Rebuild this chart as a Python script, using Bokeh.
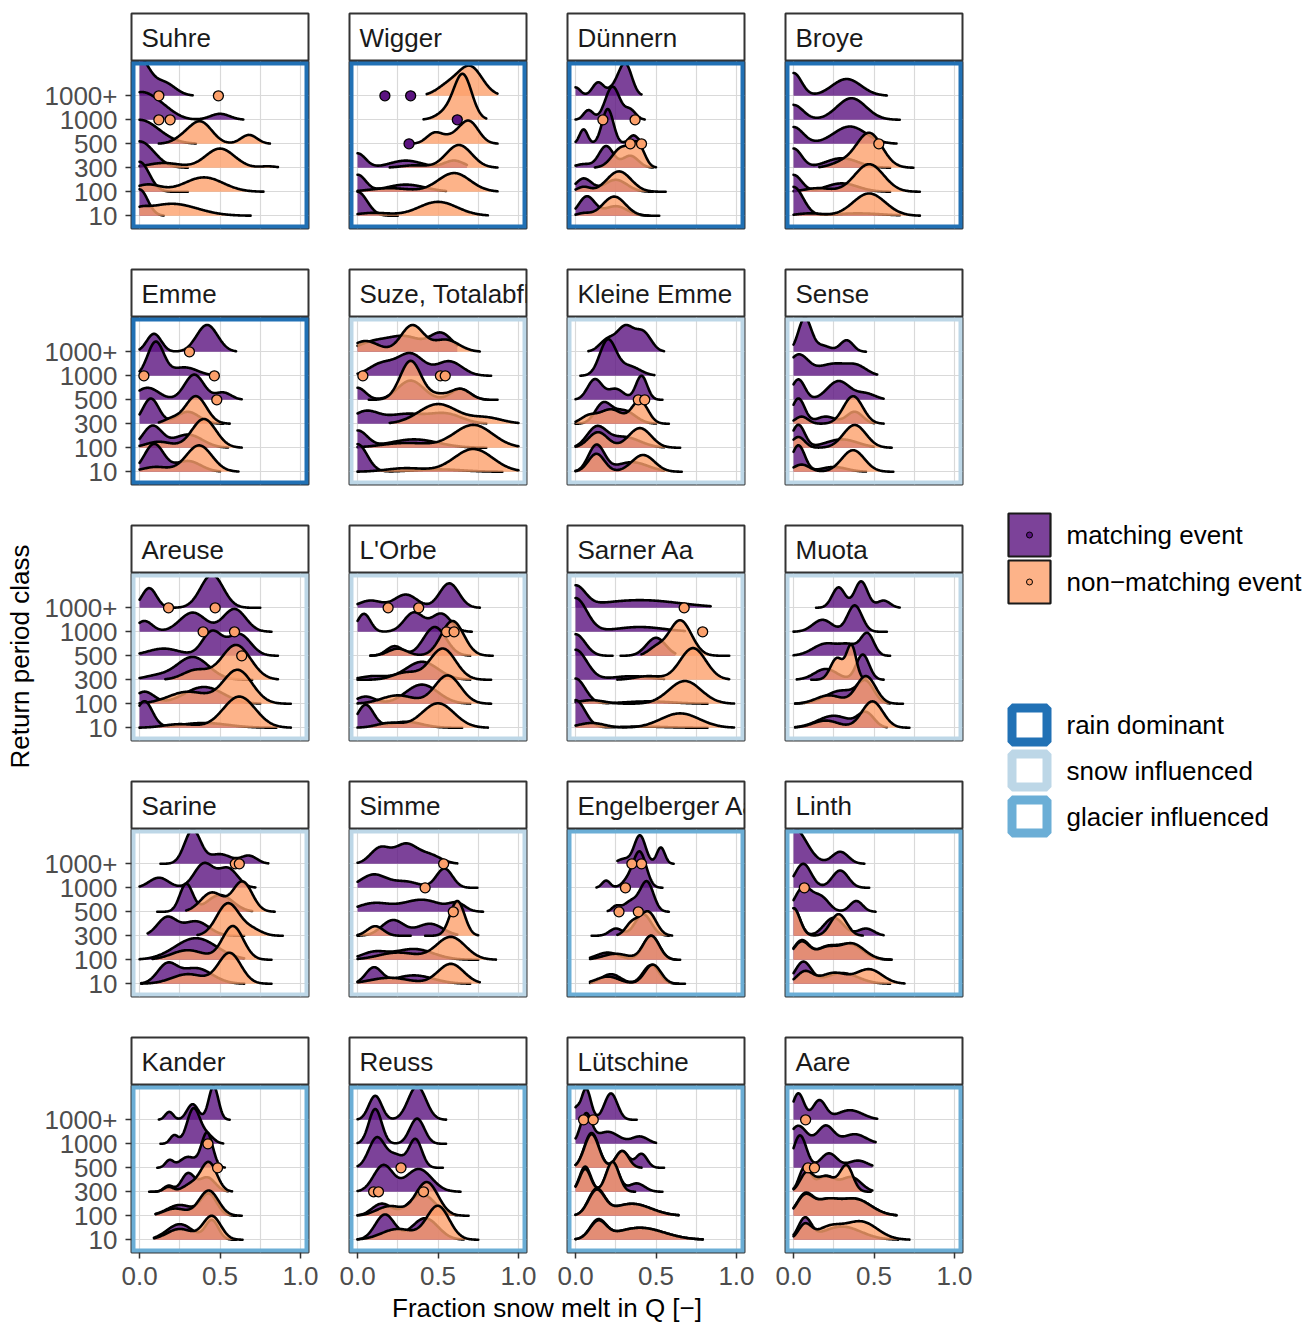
import numpy as np
from bokeh.plotting import figure
from bokeh.layouts import row, column
from bokeh.models import Range1d, FixedTicker, LinearAxis, Grid, NumeralTickFormatter
from bokeh.embed import file_html
from bokeh.resources import INLINE
from bokeh.core.properties import value

# ---------------- data ----------------
RP_CLASSES = ["10", "100", "300", "500", "1000", "1000+"]
X_TICKS = [0.0, 0.5, 1.0]
X_MINOR = [0.25, 0.75]
EVENT_LABELS = ["matching event", "non\u2212matching event"]
REGIME_LABELS = ["rain dominant", "snow influenced", "glacier influenced"]

PANEL_NAMES = ["Suhre", "Wigger", "Dünnern", "Broye",
               "Emme", "Suze, Totalabfluss", "Kleine Emme", "Sense",
               "Areuse", "L'Orbe", "Sarner Aa", "Muota",
               "Sarine", "Simme", "Engelberger Aa", "Linth",
               "Kander", "Reuss", "Lütschine", "Aare"]
PANEL_REGIME = (["rain dominant"] * 5 + ["snow influenced"] * 9 + ["glacier influenced"] * 6)

# ridge: (return period class, event type M/N, x from, x to, [(peak x, peak height, peak width), ...])
SUHRE = [
    ("1000+", "M", 0, .33, [(0, 1.5, .06), (.15, .55, .07)]),
    ("1000", "M", 0, .645, [(0, 1.1, .1), (.15, .3, .08), (.5, .25, .06)]),
    ("500", "M", 0, .35, [(0, 1.0, .12)]),
    ("500", "N", .12, .81, [(.38, .9, .07), (.27, .2, .06), (.68, .37, .05)]),
    ("300", "M", 0, .3, [(0, 1.1, .09)]),
    ("300", "N", 0, .86, [(.5, .8, .09), (.15, .2, .1), (.8, .06, .05)]),
    ("100", "M", 0, .3, [(0, 1.25, .06)]),
    ("100", "N", 0, .77, [(.05, .3, .08), (.4, .6, .12)]),
    ("10", "M", 0, .15, [(0, 1.1, .05)]),
    ("10", "N", 0, .69, [(.2, .5, .16), (0, .15, .05)]),
]
SUHRE_PTS = [("1000+", "N", .12), ("1000+", "N", .49), ("1000", "N", .12), ("1000", "N", .19)]

WIGGER = [
    ("1000+", "N", .43, .87, [(.70, 1.2, .075), (.56, .4, .07)]),
    ("1000", "N", .41, .80, [(.655, 1.85, .055), (.55, .3, .06)]),
    ("500", "N", .34, .87, [(.48, .45, .05), (.69, .95, .06), (.58, .2, .05)]),
    ("300", "M", 0, .68, [(0, .6, .05), (.3, .3, .1), (.6, .3, .06)]),
    ("300", "N", .2, .87, [(.63, .95, .08), (.35, .1, .08)]),
    ("100", "M", 0, .55, [(0, .7, .05), (.3, .3, .12)]),
    ("100", "N", 0, .87, [(.6, .78, .1), (.2, .15, .12)]),
    ("10", "M", 0, .25, [(0, 1.0, .06)]),
    ("10", "N", 0, .81, [(.5, .58, .12), (.1, .12, .1)]),
]
WIGGER_PTS = [("1000+", "M", .17), ("1000+", "M", .33), ("1000", "M", .62), ("500", "M", .32)]

DUENNERN = [
    ("1000+", "M", 0, .41, [(0, .35, .03), (.14, .55, .035), (.31, 1.3, .04), (.24, .3, .04)]),
    ("1000", "M", 0, .43, [(.08, .4, .03), (.23, 1.38, .045), (.34, .4, .035)]),
    ("500", "M", 0, .42, [(.05, .6, .025), (.2, 1.45, .035), (.36, .35, .03)]),
    ("300", "M", 0, .48, [(.19, .9, .045), (.05, .15, .05), (.34, .5, .05)]),
    ("300", "N", .12, .5, [(.29, .85, .06), (.39, .85, .04)]),
    ("100", "M", 0, .48, [(.05, .55, .05), (.25, .5, .07)]),
    ("100", "N", 0, .56, [(.27, .85, .075), (.05, .2, .04)]),
    ("10", "M", 0, .45, [(.07, .8, .05), (.25, .4, .07)]),
    ("10", "N", 0, .52, [(.24, .8, .07), (.05, .1, .04)]),
]
DUENNERN_PTS = [("1000", "N", .17), ("1000", "N", .37), ("500", "N", .34), ("500", "N", .41)]

BROYE = [
    ("1000+", "M", 0, .58, [(0, .95, .05), (.33, .7, .09)]),
    ("1000", "M", 0, .66, [(0, .62, .06), (.36, .9, .09)]),
    ("500", "M", 0, .64, [(0, .7, .06), (.35, .72, .1)]),
    ("300", "M", 0, .6, [(0, .8, .05), (.3, .4, .1)]),
    ("300", "N", .16, .745, [(.47, 1.45, .08), (.3, .2, .07)]),
    ("100", "M", 0, .6, [(0, .7, .05), (.3, .35, .1)]),
    ("100", "N", 0, .785, [(.47, 1.15, .09), (.15, .15, .08)]),
    ("10", "M", 0, .66, [(0, 1.2, .06), (.4, .1, .15)]),
    ("10", "N", 0, .785, [(.47, .93, .1), (.1, .1, .08)]),
]
BROYE_PTS = [("500", "N", .53)]

EMME = [
    ("1000+", "M", 0, .6, [(.09, .75, .045), (.42, 1.12, .065)]),
    ("1000", "M", 0, .48, [(.1, 1.4, .05), (.28, .35, .08)]),
    ("500", "M", 0, .635, [(.05, .5, .07), (.34, 1.05, .06), (.52, .3, .05)]),
    ("300", "M", 0, .52, [(.07, 1.05, .05), (.3, .5, .07)]),
    ("300", "N", .12, .56, [(.35, 1.15, .065), (.2, .2, .05)]),
    ("100", "M", 0, .55, [(.08, .9, .06), (.3, .55, .09)]),
    ("100", "N", 0, .635, [(.4, 1.2, .075), (.12, .25, .08)]),
    ("10", "M", 0, .5, [(.09, 1.15, .06), (.3, .45, .08)]),
    ("10", "N", 0, .615, [(.37, 1.1, .08), (.1, .2, .08)]),
]
EMME_PTS = [("1000+", "N", .31), ("1000", "N", .027), ("1000", "N", .465), ("500", "N", .48)]

SUZE = [
    ("1000+", "M", 0, .62, [(.1, .4, .1), (.3, .6, .1), (.52, .75, .07)]),
    ("1000+", "N", 0, .76, [(.34, 1.1, .07), (.05, .45, .08), (.55, .5, .08)]),
    ("1000", "M", 0, .83, [(.15, .5, .08), (.33, .9, .08), (.57, .6, .08)]),
    ("500", "M", 0, .8, [(0, .5, .05), (.33, .8, .08), (.64, .45, .06)]),
    ("500", "N", .07, .87, [(.33, 1.62, .065), (.64, .45, .06), (.5, .2, .06)]),
    ("300", "M", 0, .8, [(.05, .5, .08), (.3, .4, .12), (.55, .4, .1)]),
    ("300", "N", .2, 1.0, [(.5, .82, .12), (.8, .25, .1)]),
    ("100", "M", 0, .8, [(0, .7, .06), (.35, .35, .15)]),
    ("100", "N", 0, 1.0, [(.72, .95, .12), (.3, .2, .15)]),
    ("10", "M", 0, .9, [(0, 1.15, .06), (.5, .1, .15)]),
    ("10", "N", 0, 1.0, [(.72, .95, .12), (.3, .15, .12)]),
]
SUZE_PTS = [("1000", "N", .033), ("1000", "N", .515), ("1000", "N", .545)]

KLEINE_EMME = [
    ("1000+", "M", .08, .55, [(.2, .5, .05), (.31, 1.0, .05), (.42, .8, .05)]),
    ("1000", "M", .03, .49, [(.2, 1.45, .05), (.33, .4, .07)]),
    ("500", "M", 0, .54, [(.12, .85, .045), (.25, .45, .05), (.41, 1.0, .035)]),
    ("300", "M", 0, .5, [(.17, .8, .05), (.3, .55, .07)]),
    ("300", "N", 0, .58, [(.22, .6, .07), (.4, .95, .05), (.08, .3, .05)]),
    ("100", "M", 0, .55, [(.13, .8, .06), (.3, .45, .1)]),
    ("100", "N", 0, .65, [(.14, .65, .06), (.4, .82, .07)]),
    ("10", "M", 0, .55, [(.13, 1.1, .05), (.35, .4, .1)]),
    ("10", "N", 0, .66, [(.13, .75, .05), (.42, .7, .07)]),
]
KLEINE_EMME_PTS = [("500", "N", .39), ("500", "N", .43)]

SENSE = [
    ("1000+", "M", 0, .45, [(.07, 1.4, .04), (.33, .48, .04), (.18, .25, .05)]),
    ("1000", "M", 0, .52, [(.03, .85, .06), (.25, .5, .1), (.4, .3, .06)]),
    ("500", "M", 0, .56, [(.03, .85, .04), (.28, .78, .07), (.45, .25, .06)]),
    ("300", "M", 0, .5, [(.03, 1.05, .04), (.2, .3, .06), (.38, .5, .05)]),
    ("300", "N", 0, .56, [(.37, 1.15, .06), (.05, .3, .04)]),
    ("100", "M", 0, .5, [(.03, .95, .04), (.3, .35, .1)]),
    ("100", "N", 0, .61, [(.38, .95, .07), (.03, .45, .04)]),
    ("10", "M", 0, .45, [(.03, 1.1, .04), (.25, .2, .08)]),
    ("10", "N", 0, .62, [(.37, .9, .07), (.05, .3, .05)]),
]
SENSE_PTS = []

AREUSE = [
    ("1000+", "M", 0, .75, [(.06, .82, .045), (.45, 1.38, .07)]),
    ("1000", "M", 0, .82, [(.03, .45, .05), (.33, .8, .08), (.59, .95, .07)]),
    ("500", "M", 0, .86, [(.15, .3, .1), (.45, 1.0, .06), (.62, .9, .07)]),
    ("300", "M", 0, .7, [(.33, .95, .1), (.1, .15, .08)]),
    ("300", "N", .16, .86, [(.6, 1.45, .09), (.35, .4, .08)]),
    ("100", "M", 0, .75, [(.03, .5, .06), (.4, .7, .12)]),
    ("100", "N", 0, .94, [(.61, 1.4, .09), (.3, .5, .12)]),
    ("10", "M", 0, .85, [(.03, 1.1, .05), (.4, .2, .15)]),
    ("10", "N", 0, .94, [(.62, 1.3, .1), (.25, .15, .1)]),
]
AREUSE_PTS = [("1000+", "N", .18), ("1000+", "N", .47), ("1000", "N", .395), ("1000", "N", .59), ("500", "N", .635)]

ORBE = [
    ("1000+", "M", 0, .76, [(.08, .3, .07), (.3, .55, .07), (.57, 1.02, .06)]),
    ("1000", "M", 0, .71, [(.04, .75, .04), (.35, .8, .06), (.52, .75, .06)]),
    ("500", "M", .08, .7, [(.23, .4, .05), (.48, 1.2, .07)]),
    ("500", "N", .08, .84, [(.59, 1.45, .07), (.25, .3, .06)]),
    ("300", "M", 0, .7, [(.4, .75, .1), (.1, .15, .08)]),
    ("300", "N", 0, .83, [(.53, 1.3, .08), (.3, .3, .08)]),
    ("100", "M", 0, .7, [(.05, .3, .06), (.4, .8, .1)]),
    ("100", "N", 0, .83, [(.56, 1.18, .08), (.25, .35, .1)]),
    ("10", "M", 0, .65, [(.05, .95, .05), (.3, .25, .1)]),
    ("10", "N", 0, .81, [(.5, 1.02, .1), (.2, .2, .08)]),
]
ORBE_PTS = [("1000+", "N", .19), ("1000+", "N", .38), ("1000", "N", .553), ("1000", "N", .6)]

SARNER_AA = [
    ("1000+", "M", 0, .84, [(0, .85, .06), (.4, .32, .25)]),
    ("1000", "M", 0, .68, [(0, 1.4, .07), (.4, .2, .15)]),
    ("500", "M", 0, .23, [(0, .9, .06)]),
    ("500", "M", .28, .62, [(.5, .75, .06)]),
    ("500", "N", .41, .955, [(.65, 1.48, .07), (.5, .3, .05)]),
    ("300", "M", 0, .55, [(0, 1.25, .07), (.35, .15, .12)]),
    ("300", "N", .26, .955, [(.73, 1.32, .08), (.45, .15, .08)]),
    ("100", "M", 0, .82, [(0, 1.05, .06), (.45, .1, .15)]),
    ("100", "N", 0, .985, [(.68, .95, .1), (.1, .15, .08)]),
    ("10", "M", 0, .82, [(0, 1.15, .06), (.4, .05, .15)]),
    ("10", "N", 0, .985, [(.65, .6, .12), (.1, .2, .08)]),
]
SARNER_AA_PTS = [("1000+", "N", .675), ("1000", "N", .79)]

MUOTA = [
    ("1000+", "M", .14, .66, [(.28, .85, .04), (.42, 1.1, .04), (.56, .3, .04)]),
    ("1000", "M", 0, .58, [(.18, .5, .06), (.38, 1.1, .045)]),
    ("500", "M", 0, .6, [(.2, .5, .08), (.46, .88, .04), (.35, .4, .06)]),
    ("300", "M", .02, .56, [(.2, .45, .07), (.43, 1.05, .04)]),
    ("300", "N", .11, .45, [(.27, .9, .04), (.36, 1.4, .03)]),
    ("100", "M", .01, .6, [(.3, .55, .1), (.45, .8, .05)]),
    ("100", "N", .01, .68, [(.45, 1.15, .06), (.22, .35, .08)]),
    ("10", "M", .01, .58, [(.25, .5, .1), (.45, .6, .05)]),
    ("10", "N", .01, .72, [(.49, 1.1, .065), (.2, .3, .08)]),
]
MUOTA_PTS = []

SARINE = [
    ("1000+", "M", .13, .8, [(.33, 1.4, .05), (.5, .4, .07), (.68, .33, .05)]),
    ("1000", "M", 0, .72, [(.12, .42, .06), (.4, 1.0, .06), (.55, .8, .06)]),
    ("500", "M", .11, .7, [(.29, 1.15, .04), (.5, .7, .08)]),
    ("500", "N", .29, .84, [(.64, 1.25, .06), (.45, .8, .07)]),
    ("300", "M", .05, .65, [(.17, .75, .06), (.35, .6, .08)]),
    ("300", "N", .36, .89, [(.55, 1.35, .07), (.7, .25, .06)]),
    ("100", "M", 0, .65, [(.35, .9, .13)]),
    ("100", "N", .08, .82, [(.58, 1.4, .065), (.3, .4, .1)]),
    ("10", "M", .01, .65, [(.17, .75, .06), (.35, .65, .1)]),
    ("10", "N", .01, .82, [(.56, 1.28, .07), (.3, .4, .1)]),
]
SARINE_PTS = [("1000+", "N", .595), ("1000+", "N", .62)]

SIMME = [
    ("1000+", "M", 0, .62, [(.14, .65, .06), (.3, .8, .07), (.45, .35, .07)]),
    ("1000", "M", 0, .745, [(.1, .55, .08), (.3, .25, .08), (.54, .8, .05)]),
    ("500", "M", 0, .78, [(.1, .35, .1), (.4, .5, .12), (.62, .3, .05)]),
    ("300", "M", 0, .62, [(.22, .65, .07), (.45, .5, .08)]),
    ("300", "N", 0, .33, [(.11, .4, .05)]),
    ("300", "N", .42, .75, [(.62, 1.45, .045)]),
    ("100", "M", 0, .75, [(.1, .3, .08), (.35, .45, .12)]),
    ("100", "N", 0, .86, [(.58, .95, .09), (.25, .3, .12)]),
    ("10", "M", 0, .7, [(.1, .65, .05), (.35, .35, .12)]),
    ("10", "N", 0, .76, [(.58, .83, .08), (.2, .25, .12)]),
]
SIMME_PTS = [("1000+", "N", .535), ("1000", "N", .42), ("500", "N", .595)]

ENGELBERGER_AA = [
    ("1000+", "M", .26, .61, [(.4, 1.18, .035), (.53, .68, .025), (.3, .2, .04)]),
    ("1000", "M", .13, .54, [(.19, .3, .025), (.4, 1.45, .04), (.33, .3, .04)]),
    ("500", "M", .2, .58, [(.25, .2, .025), (.35, .45, .05), (.445, 1.2, .04)]),
    ("300", "M", .1, .58, [(.25, .3, .04), (.42, .9, .05)]),
    ("300", "N", .26, .6, [(.45, 1.0, .05), (.35, .5, .04)]),
    ("100", "M", .09, .62, [(.2, .3, .07), (.47, 1.0, .05)]),
    ("100", "N", .09, .65, [(.47, 1.0, .05), (.25, .25, .08)]),
    ("10", "M", .09, .64, [(.22, .4, .06), (.47, .78, .05)]),
    ("10", "N", .09, .68, [(.2, .3, .07), (.48, .8, .05)]),
]
ENGELBERGER_AA_PTS = [("1000+", "N", .35), ("1000+", "N", .41), ("1000", "N", .31), ("500", "N", .27), ("500", "N", .39)]

LINTH = [
    ("1000+", "M", 0, .44, [(0, 1.5, .08), (.29, .5, .05)]),
    ("1000", "M", 0, .47, [(.06, 1.0, .05), (.29, .72, .05)]),
    ("500", "M", 0, .51, [(.06, 1.0, .05), (.17, .6, .05), (.39, .45, .04)]),
    ("300", "M", 0, .56, [(0, 1.15, .04), (.25, .75, .06), (.45, .3, .05)]),
    ("300", "N", 0, .43, [(0, 1.15, .04), (.28, .9, .05)]),
    ("100", "M", 0, .6, [(.05, .8, .05), (.35, .65, .08), (.2, .45, .06)]),
    ("100", "N", 0, .61, [(.05, .75, .05), (.36, .68, .08), (.2, .45, .06)]),
    ("10", "M", 0, .6, [(.06, .9, .05), (.3, .45, .1)]),
    ("10", "N", 0, .69, [(.07, .5, .05), (.47, .6, .08), (.25, .45, .08)]),
]
LINTH_PTS = [("1000", "N", .067)]

KANDER = [
    ("1000+", "M", .12, .56, [(.185, .33, .025), (.33, .65, .035), (.46, 1.4, .03)]),
    ("1000", "M", .13, .52, [(.215, .35, .025), (.335, 1.45, .04), (.42, .35, .04)]),
    ("500", "M", .11, .53, [(.185, .3, .025), (.3, .45, .05), (.42, 1.45, .035)]),
    ("300", "M", .07, .55, [(.18, .25, .03), (.3, .75, .04), (.42, .6, .05)]),
    ("300", "N", .06, .575, [(.43, 1.22, .05), (.18, .2, .03), (.32, .3, .05)]),
    ("100", "M", .1, .6, [(.25, .45, .08), (.43, .9, .05)]),
    ("100", "N", .1, .635, [(.43, 1.05, .06), (.22, .3, .07)]),
    ("10", "M", .09, .6, [(.25, .65, .08), (.45, .8, .04)]),
    ("10", "N", .09, .64, [(.45, .98, .055), (.25, .45, .08)]),
]
KANDER_PTS = [("1000", "N", .425), ("500", "N", .485)]

REUSS = [
    ("1000+", "M", 0, .55, [(.11, 1.0, .04), (.37, 1.4, .055)]),
    ("1000", "M", 0, .55, [(.11, 1.45, .04), (.37, 1.05, .045)]),
    ("500", "M", 0, .53, [(.12, 1.25, .05), (.36, 1.18, .04), (.24, .5, .05)]),
    ("300", "M", 0, .64, [(.16, 1.1, .06), (.38, .95, .08)]),
    ("100", "M", 0, .62, [(.15, .5, .06), (.4, .9, .08)]),
    ("100", "N", 0, .69, [(.43, 1.4, .07), (.2, .4, .08)]),
    ("10", "M", 0, .66, [(.17, 1.05, .06), (.42, .9, .08)]),
    ("10", "N", 0, .75, [(.5, 1.4, .07), (.25, .45, .1)]),
]
REUSS_PTS = [("500", "N", .27), ("300", "N", .1), ("300", "N", .13), ("300", "N", .41)]

LUETSCHINE = [
    ("1000+", "M", 0, .38, [(.065, 1.3, .03), (.22, 1.1, .04), (0, .4, .02)]),
    ("1000", "M", 0, .5, [(.065, 1.2, .035), (.2, .5, .07), (.4, .3, .05)]),
    ("500", "M", 0, .55, [(.1, 1.45, .045), (.29, .7, .04), (.41, .58, .035)]),
    ("500", "N", 0, .41, [(.1, 1.4, .045), (.29, .7, .04)]),
    ("300", "M", 0, .54, [(.06, 1.05, .035), (.23, 1.2, .04), (.38, .35, .05)]),
    ("300", "N", 0, .37, [(.06, .95, .035), (.23, 1.25, .04)]),
    ("100", "M", 0, .64, [(.13, 1.05, .05), (.35, .5, .12)]),
    ("100", "N", 0, .64, [(.13, 1.0, .05), (.35, .5, .12)]),
    ("10", "M", 0, .79, [(.14, .75, .05), (.4, .5, .15)]),
    ("10", "N", 0, .79, [(.14, .7, .05), (.4, .5, .15)]),
]
LUETSCHINE_PTS = [("1000+", "N", .05), ("1000+", "N", .11)]

AARE = [
    ("1000+", "M", 0, .52, [(.03, 1.1, .035), (.16, .8, .04), (.35, .4, .08)]),
    ("1000", "M", 0, .51, [(.03, .75, .05), (.2, .75, .05), (.38, .4, .07)]),
    ("500", "M", 0, .49, [(.04, 1.35, .04), (.22, .6, .05), (.4, .3, .06)]),
    ("300", "M", 0, .49, [(.07, 1.0, .035), (.2, .65, .06), (.36, .6, .06)]),
    ("300", "N", 0, .48, [(.08, .75, .04), (.2, .65, .06), (.33, 1.05, .04)]),
    ("100", "M", 0, .64, [(.07, .85, .05), (.38, .7, .1), (.2, .55, .07)]),
    ("100", "N", 0, .64, [(.07, .8, .05), (.38, .7, .1), (.2, .55, .07)]),
    ("10", "M", 0, .65, [(.07, .85, .04), (.3, .55, .12)]),
    ("10", "N", 0, .72, [(.07, .6, .04), (.42, .75, .1), (.22, .5, .08)]),
]
AARE_PTS = [("1000+", "N", .075), ("500", "N", .09), ("500", "N", .13)]

PANEL_RIDGES = [SUHRE, WIGGER, DUENNERN, BROYE, EMME, SUZE, KLEINE_EMME, SENSE,
                AREUSE, ORBE, SARNER_AA, MUOTA, SARINE, SIMME, ENGELBERGER_AA, LINTH,
                KANDER, REUSS, LUETSCHINE, AARE]
PANEL_POINTS = [SUHRE_PTS, WIGGER_PTS, DUENNERN_PTS, BROYE_PTS, EMME_PTS, SUZE_PTS, KLEINE_EMME_PTS, SENSE_PTS,
                AREUSE_PTS, ORBE_PTS, SARNER_AA_PTS, MUOTA_PTS, SARINE_PTS, SIMME_PTS, ENGELBERGER_AA_PTS, LINTH_PTS,
                KANDER_PTS, REUSS_PTS, LUETSCHINE_PTS, AARE_PTS]

# ---------------- style ----------------
FONT = value("Liberation Sans")
FILL = {"M": "#5B1380", "N": "#FCA06B"}
FILL_ALPHA = 0.8
REGIME_COLORS = {"rain dominant": "#2171B5", "snow influenced": "#BDD7E7", "glacier influenced": "#6BAED6"}
GRID_COLOR = "#d9d9d9"
XR = (-0.05, 1.05)
YR = (0.47, 7.43)
FW, FH = 177, 167
STRIP_H = 48
TOTAL_H = 1322
YT_W = 36
LW = 326


def density(peaks, xs):
    ys = np.zeros_like(xs)
    for mu, h, sd in peaks:
        ys += h * np.exp(-0.5 * ((xs - mu) / sd) ** 2)
    return ys


def blank_fig(w, h, xr, yr, **kw):
    p = figure(frame_width=w, frame_height=h, x_range=Range1d(*xr), y_range=Range1d(*yr),
               x_axis_location=None, y_axis_location=None, toolbar_location=None,
               output_backend="svg", min_border_left=kw.get("left", 0), min_border_right=kw.get("right", 0),
               min_border_top=kw.get("top", 0), min_border_bottom=kw.get("bottom", 0),
               outline_line_color=kw.get("outline", None), outline_line_width=2,
               background_fill_color="white", border_fill_color="white")
    # drop default grids
    p.center = [r for r in p.center if not isinstance(r, Grid)]
    return p


def make_strip(name, left, top):
    p = blank_fig(FW, STRIP_H, (0, FW), (0, STRIP_H), left=left, right=20, top=top, outline="#333333")
    p.text(x=[10], y=[STRIP_H / 2], text=[name], text_font=FONT, text_font_size="26px",
           text_color="#1a1a1a", text_baseline="middle", text_align="left")
    return p


def make_panel(idx, left, bottom, show_y, show_x):
    p = blank_fig(FW, FH, XR, YR, left=left, right=20, top=0, bottom=bottom, outline="#333333")
    p.add_layout(Grid(dimension=0, ticker=FixedTicker(ticks=X_TICKS + X_MINOR),
                      grid_line_color=GRID_COLOR, grid_line_width=1.2))
    p.add_layout(Grid(dimension=1, ticker=FixedTicker(ticks=list(range(1, len(RP_CLASSES) + 1))),
                      grid_line_color=GRID_COLOR, grid_line_width=1.2))
    ridges = sorted(PANEL_RIDGES[idx], key=lambda r: (-RP_CLASSES.index(r[0]), 0 if r[1] == "M" else 1))
    for cls, ev, lo, hi, peaks in ridges:
        base = RP_CLASSES.index(cls) + 1
        xs = np.linspace(lo, hi, 180)
        ys = base + density(peaks, xs)
        px = np.concatenate([[lo], xs, [hi]])
        py = np.concatenate([[base], ys, [base]])
        p.patch(px, py, fill_color=FILL[ev], fill_alpha=FILL_ALPHA, line_color=None)
        p.line(xs, ys, line_color="black", line_width=2.6, line_join="round", line_cap="round")
    pts = PANEL_POINTS[idx]
    for ev in ("M", "N"):
        xs = [x for c, e, x in pts if e == ev]
        ys = [RP_CLASSES.index(c) + 1 for c, e, x in pts if e == ev]
        if xs:
            p.scatter(xs, ys, size=10, marker="circle", fill_color=FILL[ev], line_color="black", line_width=1.3)
    p.quad(left=XR[0], right=XR[1], bottom=YR[0], top=YR[1], fill_color=None,
           line_color=REGIME_COLORS[PANEL_REGIME[idx]], line_width=8)
    if show_y:
        ax = LinearAxis(ticker=FixedTicker(ticks=list(range(1, len(RP_CLASSES) + 1))),
                        major_label_overrides={i + 1: lab for i, lab in enumerate(RP_CLASSES)},
                        axis_line_color=None, major_tick_line_color="#333333", major_tick_line_width=1.5,
                        major_tick_out=6, major_tick_in=0, minor_tick_line_color=None,
                        major_label_text_font_size="26px", major_label_text_color="#4d4d4d",
                        major_label_text_font="Liberation Sans", major_label_standoff=8)
        p.add_layout(ax, "left")
    if show_x:
        ax = LinearAxis(ticker=FixedTicker(ticks=X_TICKS), formatter=NumeralTickFormatter(format="0.0"),
                        axis_line_color=None, major_tick_line_color="#333333", major_tick_line_width=1.5,
                        major_tick_out=6, major_tick_in=0, minor_tick_line_color=None,
                        major_label_text_font_size="26px", major_label_text_color="#4d4d4d",
                        major_label_text_font="Liberation Sans", major_label_standoff=8)
        p.add_layout(ax, "below")
    return p


grid_rows = []
for r in range(5):
    cols = []
    for c in range(4):
        idx = r * 4 + c
        left = 95 if c == 0 else 21
        top = 13 if r == 0 else 2
        bottom = 40 if r == 4 else 39
        strip = make_strip(PANEL_NAMES[idx], left, top)
        panel = make_panel(idx, left, bottom, c == 0, r == 4)
        cols.append(column(strip, panel, spacing=0))
    grid_rows.append(row(*cols, spacing=0))

GRID_W = 292 + 218 * 3
ROWS_H = (13 + 48 + 167 + 39) + 3 * 256 + (2 + 48 + 167 + 40)
XT_H = TOTAL_H - ROWS_H
xtitle = blank_fig(GRID_W, XT_H, (0, GRID_W), (0, XT_H))
xtitle.text(x=[510.5], y=[XT_H - 15], text=["Fraction snow melt in Q [\u2212]"], text_font=FONT,
            text_font_size="26px", text_color="black", text_align="center", text_baseline="middle")

ytitle = blank_fig(YT_W, TOTAL_H, (0, YT_W), (0, TOTAL_H))
ytitle.text(x=[19], y=[TOTAL_H - 656], text=["Return period class"], text_font=FONT, angle=np.pi / 2,
            text_font_size="26px", text_color="black", text_align="center", text_baseline="middle")

# legend (positions in pixels from the legend's top-left corner)
leg = blank_fig(LW, TOTAL_H, (0, LW), (0, TOTAL_H))
ev_keys = [("M", 513, 556), ("N", 560, 603)]
for (ev, t, b), lab in zip(ev_keys, EVENT_LABELS):
    leg.quad(left=26, right=68, top=TOTAL_H - t, bottom=TOTAL_H - b, fill_color=FILL[ev],
             fill_alpha=FILL_ALPHA, line_color="#1a1a1a", line_width=2.2)
    leg.scatter([47], [TOTAL_H - (t + b) / 2], size=6, fill_color=FILL[ev], line_color="black", line_width=1)
    leg.text(x=[84], y=[TOTAL_H - (t + b) / 2], text=[lab], text_font=FONT, text_font_size="26px",
             text_color="black", text_baseline="middle", text_align="left")
reg_keys = [(703, 746), (749, 791), (795, 837)]
for (t, b), lab in zip(reg_keys, REGIME_LABELS):
    leg.quad(left=29.5, right=64.5, top=TOTAL_H - t - 4.5, bottom=TOTAL_H - b + 4.5, fill_color="white",
             line_color=REGIME_COLORS[lab], line_width=9)
    leg.text(x=[84], y=[TOTAL_H - (t + b) / 2], text=[lab], text_font=FONT, text_font_size="26px",
             text_color="black", text_baseline="middle", text_align="left")

grid_col = column(*grid_rows, xtitle, spacing=0)
root = row(ytitle, grid_col, leg, spacing=0)

open("out.html", "w").write(file_html(root, INLINE))
